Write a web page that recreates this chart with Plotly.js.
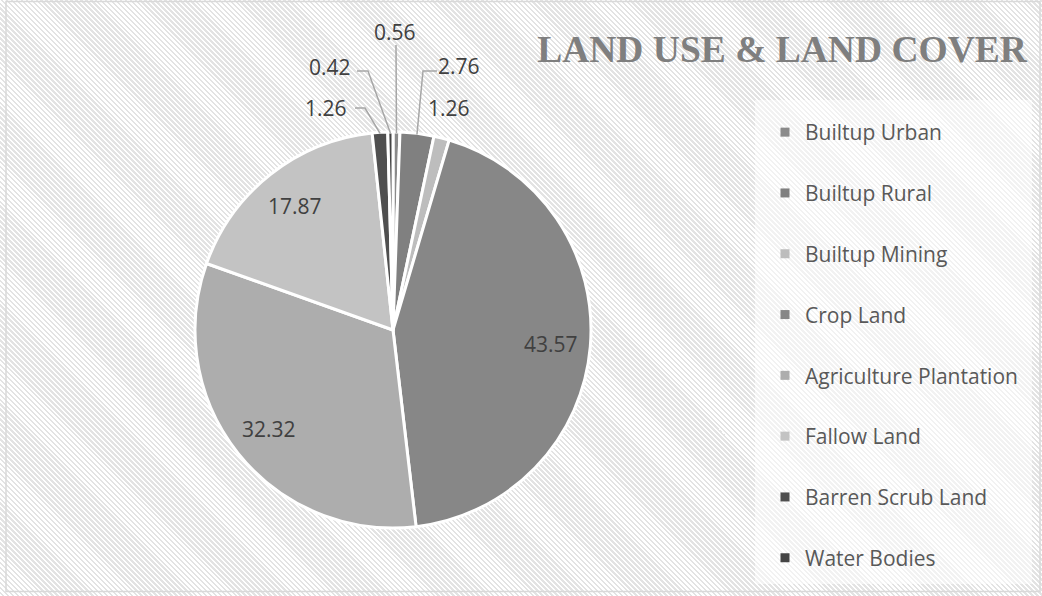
<!DOCTYPE html>
<html>
<head>
<meta charset="utf-8">
<script src="https://cdn.plot.ly/plotly-3.0.1.min.js"></script>
<style>
  html, body { margin: 0; padding: 0; background: #ffffff; }
  #chart {
    width: 1042px; height: 596px;
    background: repeating-linear-gradient(45deg, #ffffff 0px, #ffffff 1.7px, #e3e3e3 1.7px, #e3e3e3 3.5px);
  }
</style>
</head>
<body>
<div id="chart"></div>
<script>
// ---- data ----
const categories = ["Builtup Urban", "Builtup Rural", "Builtup Mining", "Crop Land",
                    "Agriculture Plantation", "Fallow Land", "Barren Scrub Land", "Water Bodies"];
const values = [0.56, 2.76, 1.26, 43.57, 32.32, 17.87, 1.26, 0.42];
const valueLabels = ["0.56", "2.76", "1.26", "43.57", "32.32", "17.87", "1.26", "0.42"];
const chartTitle = "LAND USE & LAND COVER";

// ---- styles ----
const sliceColors = ["#8a8a8a", "#808080", "#bdbdbd", "#878787", "#adadad", "#c3c3c3", "#4f4f4f", "#444444"];
const W = 1042, H = 596;
const pieBox = { x0: 195, x1: 591, y0: 132, y1: 528 }; // pixel box of the pie
const cx = (pieBox.x0 + pieBox.x1) / 2, cy = (pieBox.y0 + pieBox.y1) / 2;
const R = (pieBox.x1 - pieBox.x0) / 2;
const insideRadius = 0.8;
// outside label placement (pixels): text centre and leader-line start/elbow
const outsideLabels = {
  0: { text: [395, 32], line: [[396, 45], [396, 45]] },
  1: { text: [459, 66], line: [[437, 71], [423, 71]] },
  2: { text: [449, 108] },
  6: { text: [326, 108], line: [[355, 108], [365, 108]] },
  7: { text: [330, 67], line: [[357, 71], [368, 71]] }
};
const px = x => x / W, py = y => 1 - y / H;

// mid angles (clockwise from 12 o'clock) derived from the data
const total = values.reduce((a, b) => a + b, 0);
let cum = 0;
const midAngles = values.map(v => { const m = (cum + v / 2) / total * 2 * Math.PI; cum += v; return m; });
const polar = (ang, rr) => [cx + rr * Math.sin(ang), cy - rr * Math.cos(ang)];

const labelFont = { family: "Open Sans", size: 21, color: "#404040" };
const annotations = [];
const shapes = [
  // light panel behind legend
  { type: "rect", xref: "paper", yref: "paper", x0: px(755), x1: px(1032), y0: py(100), y1: py(584),
    fillcolor: "rgba(255,255,255,0.55)", line: { width: 0 }, layer: "below" },
  // chart frame
  { type: "rect", xref: "paper", yref: "paper", x0: px(6), x1: px(1040), y0: py(1.5), y1: py(591.5),
    fillcolor: "rgba(0,0,0,0)", line: { color: "#d9d9d9", width: 1.5 }, layer: "above" }
];

values.forEach((v, i) => {
  if (outsideLabels[i]) {
    const o = outsideLabels[i];
    annotations.push({ xref: "paper", yref: "paper", x: px(o.text[0]), y: py(o.text[1]),
      xanchor: "center", yanchor: "middle", showarrow: false, text: valueLabels[i], font: labelFont });
    if (o.line) {
      const e = polar(midAngles[i], R - 1);
      shapes.push({ type: "path", xref: "paper", yref: "paper",
        path: `M ${px(o.line[0][0])} ${py(o.line[0][1])} L ${px(o.line[1][0])} ${py(o.line[1][1])} L ${px(e[0])} ${py(e[1])}`,
        line: { color: "#a6a6a6", width: 1.5 } });
    }
  } else {
    const p = polar(midAngles[i], R * insideRadius);
    annotations.push({ xref: "paper", yref: "paper", x: px(p[0]), y: py(p[1]),
      xanchor: "center", yanchor: "middle", showarrow: false, text: valueLabels[i], font: labelFont });
  }
});

const pieTrace = {
  type: "pie", labels: categories, values: values, sort: false, direction: "clockwise", rotation: 0,
  textinfo: "none", hoverinfo: "label+value", showlegend: false,
  marker: { colors: sliceColors, line: { color: "#ffffff", width: 3 } },
  domain: { x: [px(pieBox.x0), px(pieBox.x1)], y: [py(pieBox.y1), py(pieBox.y0)] }
};

// legend entries (one per category)
const legendTraces = categories.map((c, i) => ({
  type: "scatter", mode: "markers", x: [null], y: [null], name: c, legendgroup: "g" + i,
  marker: { symbol: "square", size: 9, color: sliceColors[i] }, hoverinfo: "skip"
}));

const layout = {
  width: W, height: H,
  margin: { l: 0, r: 0, t: 0, b: 0 },
  paper_bgcolor: "rgba(0,0,0,0)", plot_bgcolor: "rgba(0,0,0,0)",
  title: { text: chartTitle, x: px(782), xanchor: "center", y: py(49), yanchor: "middle",
           font: { family: "Liberation Serif", size: 37.5, color: "#7f7f7f", weight: "bold" } },
  xaxis: { visible: false }, yaxis: { visible: false },
  showlegend: true,
  legend: { x: px(765), xanchor: "left", y: py(112), yanchor: "top", bgcolor: "rgba(0,0,0,0)",
            font: { family: "Open Sans", size: 21, color: "#595959" }, tracegroupgap: 30.5,
            itemclick: false, itemdoubleclick: false },
  annotations: annotations, shapes: shapes
};

Plotly.newPlot("chart", [pieTrace].concat(legendTraces), layout, { displayModeBar: false, staticPlot: true });
</script>
</body>
</html>
